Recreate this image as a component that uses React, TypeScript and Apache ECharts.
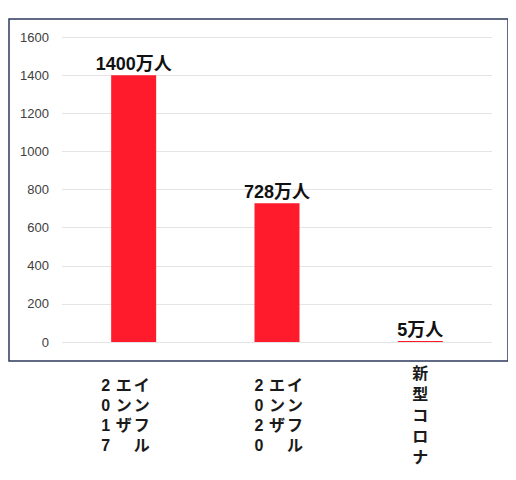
import React, { useEffect, useRef } from "react";
import * as echarts from "echarts";

// categories (horizontal name) and the vertical label columns, right to left
const categories = ["インフルエンザ2017", "インフルエンザ2020", "新型コロナ"];
const labelColumns = [
  ["インフル", "エンザ", "2017"],
  ["インフル", "エンザ", "2020"],
  ["新型コロナ"],
];
// values in 万人
const values = [1400, 728, 5];
const valueLabels = ["1400万人", "728万人", "5万人"];
const yTicks = [0, 200, 400, 600, 800, 1000, 1200, 1400, 1600];

const JP_FONT = "'Liberation Sans', 'Noto Sans CJK JP', sans-serif";

// build the vertical (tategaki) label as rows of rich fragments
const verticalLabel = (idx: number) => {
  const cols = labelColumns[idx].map((c) => Array.from(c)).reverse(); // left to right
  const rows = Math.max(...cols.map((c) => c.length));
  const style = cols.length === 1 ? "t" : "c";
  const lines: string[] = [];
  for (let r = 0; r < rows; r++) {
    let line = cols.map((c) => `{${style}|${c[r] ?? "\u3000"}}`).join("");
    if (idx === 0) line += "{s|\u3000}"; // first label sits a bit left of its bar
    lines.push(line);
  }
  return lines.join("\n");
};

const App: React.FC = () => {
  const chartRef = useRef<HTMLDivElement>(null);

  useEffect(() => {
    const chart = echarts.init(chartRef.current!, null, { renderer: "svg" });

    const cell = {
      width: 18,
      align: "center",
      fontSize: 16,
      fontWeight: "bold",
      color: "#1a1a1a",
      fontFamily: JP_FONT,
    };

    chart.setOption({
      animation: false,
      backgroundColor: "#ffffff",
      graphic: [
        {
          type: "rect",
          shape: { x: 1, y: 11, width: 499, height: 342 },
          style: { fill: "none", stroke: "#2e3a5e", lineWidth: 1.5 },
          silent: true,
        },
      ],
      grid: { left: 54, right: 18, top: 29, bottom: 136 },
      xAxis: {
        type: "category",
        data: categories,
        axisLine: { show: false },
        axisTick: { show: false },
        axisLabel: {
          interval: 0,
          margin: 73,
          verticalAlign: "middle",
          formatter: (_: string, idx: number) => verticalLabel(idx),
          rich: {
            c: { ...cell, lineHeight: 20 },
            t: { ...cell, lineHeight: 21 },
            s: { width: 20, fontSize: 16, lineHeight: 20 },
          },
        },
      },
      yAxis: {
        type: "value",
        min: yTicks[0],
        max: yTicks[yTicks.length - 1],
        interval: 200,
        axisLine: { show: false },
        axisTick: { show: false },
        axisLabel: {
          margin: 13,
          fontSize: 13,
          color: "#404040",
          fontFamily: "'Liberation Sans', Arial, sans-serif",
          formatter: (v: number) => String(v),
        },
        splitLine: { lineStyle: { color: "#e4e4e4", width: 1 } },
      },
      series: [
        {
          type: "bar",
          data: values,
          barWidth: 45,
          itemStyle: { color: "#ff1b2b" },
          label: {
            show: true,
            position: "top",
            distance: 2,
            formatter: (p: { dataIndex: number }) => valueLabels[p.dataIndex],
            fontSize: 18,
            fontWeight: "bold",
            color: "#111111",
            fontFamily: JP_FONT,
          },
        },
      ],
    });

    return () => {
      chart.dispose();
    };
  }, []);

  return <div ref={chartRef} style={{ width: 502, height: 470 }} />;
};

export default App;
